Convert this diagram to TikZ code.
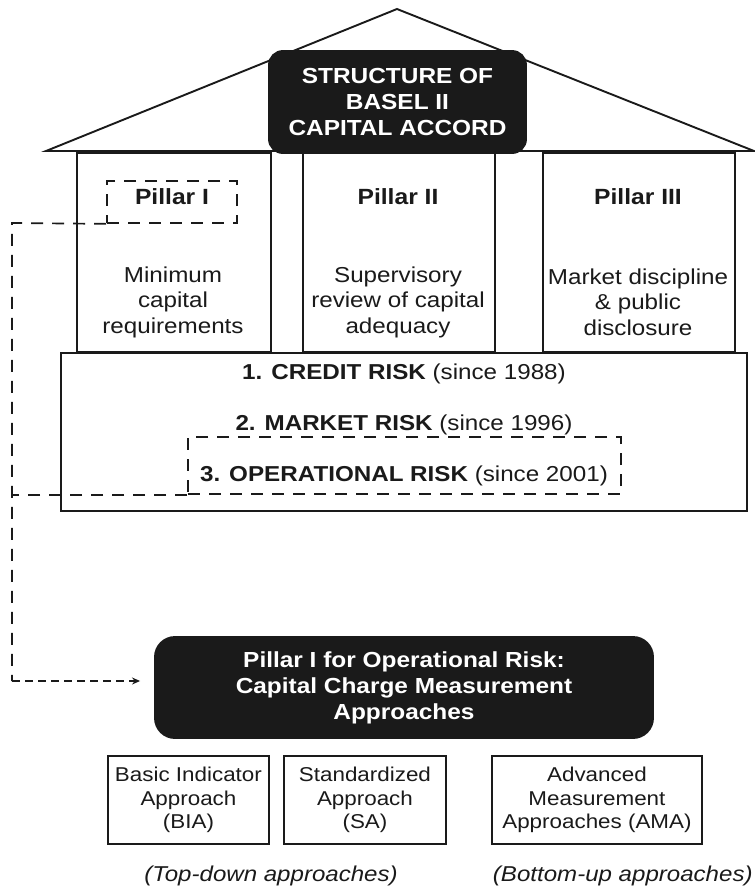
\documentclass[tikz,border=0pt]{standalone}
\usepackage{fontspec}
\setmainfont{Liberation Sans}[FakeStretch=1.12]
\usetikzlibrary{arrows.meta}
\definecolor{ink}{HTML}{1A1A1A}
\begin{document}
\begin{tikzpicture}[x=1pt,y=-1pt,line width=1.9pt,draw=ink,
  txt/.style={font=\fontsize{21.6}{25.5}\selectfont, align=center, inner sep=0pt, text=ink},
  btxt/.style={txt, font=\fontsize{22}{26}\selectfont\bfseries},
  stxt/.style={txt, font=\fontsize{20}{23.5}\selectfont},
  itxt/.style={txt, font=\fontsize{21.5}{25}\selectfont\itshape},
  boxr/.style={draw=ink, inner sep=0pt, anchor=north west},
  blackbox/.style={fill=ink, draw=ink, text=white, align=center, inner sep=0pt,
     font=\fontsize{21.8}{26}\selectfont\bfseries},
  dashbox/.style={draw=ink, dash pattern=on 12pt off 9pt, inner sep=0pt, line width=1.7pt},
  dashline/.style={dash pattern=on 12pt off 9pt, line width=1.7pt},
  arrowline/.style={dash pattern=on 8pt off 5pt, line width=1.6pt, -{Stealth[length=8pt,width=7pt]}}
]
\useasboundingbox (0,0) rectangle (755,887);
\fill[white] (0,0) rectangle (755,887);

% roof
\draw[line join=miter] (46,151) -- (397,9) -- (754,151) -- cycle;

% pillars
\node[boxr, minimum width=194pt, minimum height=199pt] (p1) at (76,152) {};
\node[boxr, minimum width=192pt, minimum height=199pt] (p2) at (302,152) {};
\node[boxr, minimum width=192pt, minimum height=199pt] (p3) at (542,152) {};

% title
\node[blackbox, rounded corners=14pt, minimum width=257pt, minimum height=102pt] (title) at (397.5,102)
  {STRUCTURE OF\\BASEL II\\CAPITAL ACCORD};

% pillar texts
\node[btxt] (t1) at (172,197) {Pillar I};
\node[btxt] (t2) at (398,197) {Pillar II};
\node[btxt] (t3) at (638,197) {Pillar III};
\node[dashbox, minimum width=130pt, minimum height=42pt] (p1dash) at (172,202) {};

\node[txt] (d1) at (173,302) {Minimum\\capital\\requirements};
\node[txt] (d2) at (398,302) {Supervisory\\review of capital\\adequacy};
\node[txt] (d3) at (638,302) {Market discipline\\\& public\\disclosure};

% risk box
\node[boxr, minimum width=686pt, minimum height=158pt] (risk) at (60,352) {};
\node[txt] (r1) at (404,374) {\textbf{1. CREDIT RISK} (since 1988)};
\node[txt] (r2) at (404,425) {\textbf{2. MARKET RISK} (since 1996)};
\node[txt] (r3) at (404,476) {\textbf{3. OPERATIONAL RISK} (since 2001)};
\node[dashbox, minimum width=433pt, minimum height=57pt] (opdash) at (404.5,465.5) {};

% lower black box
\node[blackbox, rounded corners=20pt, minimum width=498pt, minimum height=101pt] (pbox) at (404,687.5)
  {Pillar I for Operational Risk:\\Capital Charge Measurement\\Approaches};

% approach boxes
\node[boxr, minimum width=161pt, minimum height=88pt] (bia) at (107,755) {};
\node[boxr, minimum width=162pt, minimum height=88pt] (sa) at (283,755) {};
\node[boxr, minimum width=210pt, minimum height=88pt] (ama) at (491,755) {};
\node[stxt] at (bia.center) {Basic Indicator\\Approach\\(BIA)};
\node[stxt] at (sa.center) {Standardized\\Approach\\(SA)};
\node[stxt] at (ama.center) {Advanced\\Measurement\\Approaches (AMA)};

\node[itxt] (td) at (271,876) {(Top-down approaches)};
\node[itxt, anchor=west] (bu) at (492,876) {(Bottom-up approaches)};

% connectors
\coordinate (c1) at (12,223);
\coordinate (c2) at (12,681);
\draw[dashline] (p1dash.south west) -- (c1) -- (c2);
\draw[dashline] (opdash.south west) -- (opdash.south west -| c1);
\draw[arrowline, shorten >=14pt] (c2) -- (c2 -| pbox.west);
\end{tikzpicture}
\end{document}
